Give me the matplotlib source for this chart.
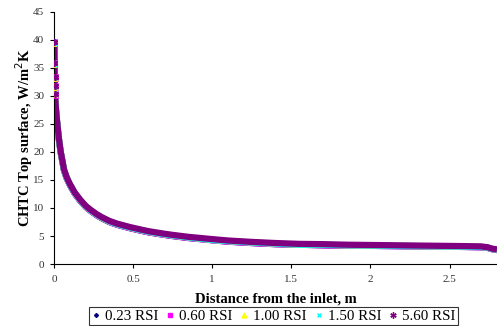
import matplotlib.pyplot as plt
from matplotlib.lines import Line2D

# distance from the inlet, m
dist = [0.002, 0.003, 0.004, 0.005, 0.006, 0.010, 0.015, 0.021, 0.03, 0.042,
        0.05, 0.063, 0.08, 0.10, 0.13, 0.165, 0.20, 0.23, 0.27, 0.30,
        0.35, 0.40, 0.48, 0.55, 0.60, 0.70, 0.75, 0.85, 1.00, 1.10,
        1.25, 1.40, 1.55, 1.70, 1.85, 2.00, 2.15, 2.30, 2.45, 2.60,
        2.70, 2.74, 2.77, 2.80]

# CHTC top surface, W/m2K
chtc_560 = [39.6, 35.8, 33.3, 31.7, 30.4, 28.5, 26.7, 25.0, 22.6, 20.1,
            18.9, 16.9, 15.5, 14.3, 12.8, 11.5, 10.4, 9.7, 8.9, 8.4,
            7.7, 7.2, 6.6, 6.15, 5.85, 5.4, 5.2, 4.85, 4.45, 4.2,
            3.95, 3.75, 3.6, 3.55, 3.45, 3.4, 3.35, 3.3, 3.25, 3.2,
            3.15, 3.0, 2.75, 2.6]
chtc_060 = [39.4, 35.6, 33.1, 31.5, 30.2, 28.3, 26.5, 24.8, 22.4, 19.9,
            18.7, 16.7, 15.3, 14.1, 12.6, 11.3, 10.2, 9.5, 8.7, 8.2,
            7.5, 7.0, 6.4, 5.95, 5.65, 5.2, 5.0, 4.65, 4.25, 4.0,
            3.75, 3.55, 3.45, 3.35, 3.3, 3.25, 3.2, 3.15, 3.1, 3.05,
            3.0, 2.9, 2.65, 2.5]
chtc_150 = [39.5, 35.7, 33.2, 31.6, 30.3, 28.4, 26.6, 24.9, 22.5, 20.0,
            18.8, 16.8, 15.4, 14.2, 12.7, 11.4, 10.3, 9.6, 8.8, 8.3,
            7.6, 7.1, 6.5, 6.05, 5.75, 5.3, 5.1, 4.75, 4.3, 4.1,
            3.85, 3.65, 3.45, 3.45, 3.35, 3.3, 3.25, 3.2, 3.15, 3.1,
            3.05, 2.95, 2.7, 2.55]
chtc_023 = chtc_060
chtc_100 = chtc_150

series = [
    ('0.23 RSI', chtc_023, '#000080', 'D', 2.5),
    ('0.60 RSI', chtc_060, '#ff00ff', 's', 4),
    ('1.00 RSI', chtc_100, '#ffff00', '^', 4),
    ('1.50 RSI', chtc_150, '#00ffff', 'x', 4),
    ('5.60 RSI', chtc_560, '#800080', (6, 2, 0), 5),
]

plt.rcParams['font.family'] = ['Liberation Serif', 'DejaVu Serif']

fig = plt.figure(figsize=(4.97, 3.26), dpi=100)
ax = fig.add_axes([0.1087, 0.19, 0.8913, 0.774])

handles = []
for name, vals, col, mk, ms in series:
    ax.plot(dist, vals, color=col, lw=4.5, solid_capstyle='butt', zorder=2)
    ax.plot(dist[:5], vals[:5], color=col, ls='none', marker=mk, ms=ms,
            mec=col, mew=1.2, zorder=3)
    handles.append(Line2D([], [], color=col, ls='none', marker=mk, ms=ms - 0.5,
                          mec=col, mew=1.0, label=name))

ax.set_xlim(0, 2.8)
ax.set_ylim(0, 45)
ax.set_xticks([0, 0.5, 1, 1.5, 2, 2.5])
ax.set_xticklabels(['0', '0.5', '1', '1.5', '2', '2.5'])
ax.set_yticks(range(0, 46, 5))
ax.tick_params(axis='both', labelsize=8, labelcolor='#333333',
               direction='out', length=3, width=0.8)
ax.tick_params(axis='x', pad=5)
ax.tick_params(axis='y', pad=4)
ax.spines['top'].set_visible(False)
ax.spines['right'].set_visible(False)

ax.set_xlabel('Distance from the inlet, m', fontsize=10.5, fontweight='bold',
              labelpad=6)
ax.set_ylabel('CHTC Top surface, W/m$^2$K', fontsize=10.5, fontweight='bold',
              labelpad=-1)

leg = fig.legend(handles=handles, loc='lower center', ncol=5,
                 bbox_to_anchor=(0.55, 0.0), fontsize=10.8, frameon=True,
                 fancybox=False, edgecolor='black', handlelength=0.6,
                 handletextpad=0.3, columnspacing=0.5, borderpad=0.15,
                 borderaxespad=0.05)
leg.get_frame().set_linewidth(0.8)

fig.savefig('out.png', dpi=100)
